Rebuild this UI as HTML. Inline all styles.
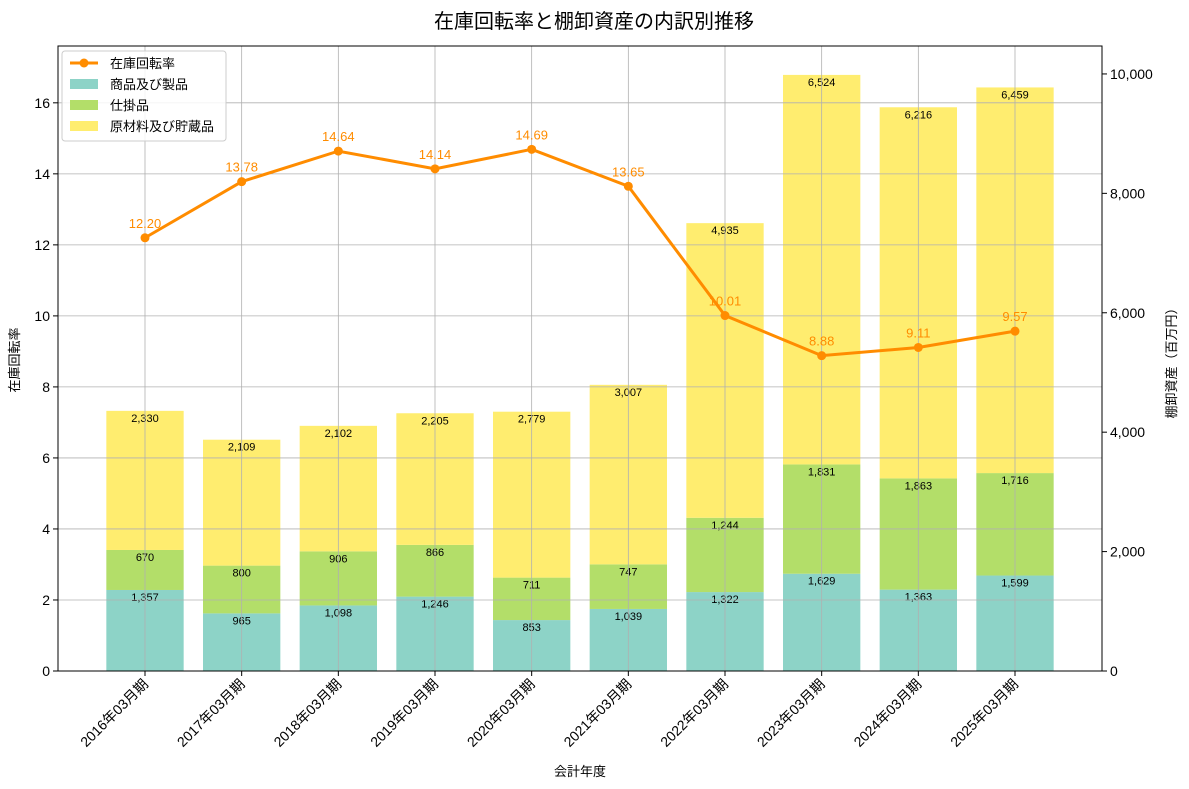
<!DOCTYPE html>
<html><head><meta charset="utf-8">
<style>
body{margin:0;background:#fff;}
svg{display:block;font-family:"Liberation Sans","Noto Sans CJK JP",sans-serif;}
</style></head>
<body>
<svg id="chart" width="1189" height="789" viewBox="0 0 1189 789" xmlns="http://www.w3.org/2000/svg">
<text x="594" y="28" text-anchor="middle" font-size="20" fill="#000">在庫回転率と棚卸資産の内訳別推移</text>
<g id="grid"></g>
<g id="bars"></g>
<g id="vgrid"></g>
<g id="line"></g>
<g id="axes"></g>
<text x="580" y="776" text-anchor="middle" font-size="13">会計年度</text>
<text transform="translate(19,360) rotate(-90)" text-anchor="middle" font-size="13">在庫回転率</text>
<text transform="translate(1176,360) rotate(-90)" text-anchor="middle" font-size="13">棚卸資産（百万円）</text>
<g>
<rect x="62" y="51" width="164" height="90" fill="#fff" fill-opacity="0.85" stroke="#ccc" rx="3"/>
<line x1="70" y1="63" x2="98" y2="63" stroke="#ff8c00" stroke-width="3"/>
<circle cx="84" cy="63" r="4.5" fill="#ff8c00"/>
<text x="110" y="68" font-size="13">在庫回転率</text>
<rect x="70" y="79" width="28" height="10" fill="#8dd3c7"/>
<text x="110" y="89" font-size="13">商品及び製品</text>
<rect x="70" y="100" width="28" height="10" fill="#b3de69"/>
<text x="110" y="110" font-size="13">仕掛品</text>
<rect x="70" y="121" width="28" height="10" fill="#ffed6f"/>
<text x="110" y="131" font-size="13">原材料及び貯蔵品</text>
</g>
</svg>
<script>
const categories=["2016年03月期","2017年03月期","2018年03月期","2019年03月期","2020年03月期","2021年03月期","2022年03月期","2023年03月期","2024年03月期","2025年03月期"];
const goods=[1357,965,1098,1246,853,1039,1322,1629,1363,1599];
const wip=[670,800,906,866,711,747,1244,1831,1863,1716];
const materials=[2330,2109,2102,2205,2779,3007,4935,6524,6216,6459];
const turnover=[12.20,13.78,14.64,14.14,14.69,13.65,10.01,8.88,9.11,9.57];
const leftTicks=[0,2,4,6,8,10,12,14,16];
const rightTicks=[0,2000,4000,6000,8000,10000];

const L=58,R=1102,T=46,B=671;
const NS="http://www.w3.org/2000/svg";
const xs=i=>L+(i+0.9)/10.8*(R-L);
const yl=v=>B-v/17.6*(B-T);
const yr=v=>B-v/10468*(B-T);
function mk(tag,attrs,parent,txt){const e=document.createElementNS(NS,tag);for(const k in attrs)e.setAttribute(k,attrs[k]);if(txt!==undefined)e.textContent=txt;document.getElementById(parent).appendChild(e);return e;}
const fmt=v=>v.toLocaleString("en-US");
const bw=0.8/10.8*(R-L);

leftTicks.forEach(t=>{if(t>0){const g=mk("line",{x1:L,x2:R,y1:yl(t),y2:yl(t),stroke:"#b0b0b0","stroke-width":0.8},"vgrid");

}});

const series=[[goods,"#8dd3c7","goods"],[wip,"#b3de69","wip"],[materials,"#ffed6f","materials"]];
categories.forEach((c,i)=>{
 let base=0;
 series.forEach(([arr,col,nm])=>{
  const v=arr[i];
  const r=mk("rect",{x:xs(i)-bw/2,y:yr(base+v),width:bw,height:yr(base)-yr(base+v),fill:col},"bars");
  
  
  base+=v;
  const t=mk("text",{x:xs(i),y:yr(base)+11,"text-anchor":"middle","font-size":11},"bars",fmt(v));
  
  
 });
 const g=mk("line",{x1:xs(i),x2:xs(i),y1:T,y2:B,stroke:"#b0b0b0","stroke-width":0.8},"vgrid");
 
 
});

const pts=turnover.map((v,i)=>xs(i)+","+yl(v)).join(" ");
const pl=mk("polyline",{points:pts,fill:"none",stroke:"#ff8c00","stroke-width":3},"line");


turnover.forEach((v,i)=>{
 const c=mk("circle",{cx:xs(i),cy:yl(v),r:4.5,fill:"#ff8c00"},"line");
 
 
 const t=mk("text",{x:xs(i),y:yl(v)-10,"text-anchor":"middle","font-size":13,fill:"#ff8c00"},"line",v.toFixed(2));
 
 
});

const f=mk("rect",{x:L,y:T,width:R-L,height:B-T,fill:"none",stroke:"#000","stroke-width":1},"axes");


leftTicks.forEach(t=>{
 mk("line",{x1:L-5,x2:L,y1:yl(t),y2:yl(t),stroke:"#000"},"axes");
 const e=mk("text",{x:L-8,y:yl(t)+5,"text-anchor":"end","font-size":14},"axes",t);
 
 
});
rightTicks.forEach(t=>{
 mk("line",{x1:R,x2:R+5,y1:yr(t),y2:yr(t),stroke:"#000"},"axes");
 const e=mk("text",{x:R+8,y:yr(t)+5,"font-size":14},"axes",fmt(t));
 
 
});
categories.forEach((c,i)=>{
 mk("line",{x1:xs(i),x2:xs(i),y1:B,y2:B+5,stroke:"#000"},"axes");
 const e=mk("text",{transform:`translate(${xs(i)+4},${B+14}) rotate(-45)`,"text-anchor":"end","font-size":14},"axes",c);
 
 
});
</script>
</body></html>
